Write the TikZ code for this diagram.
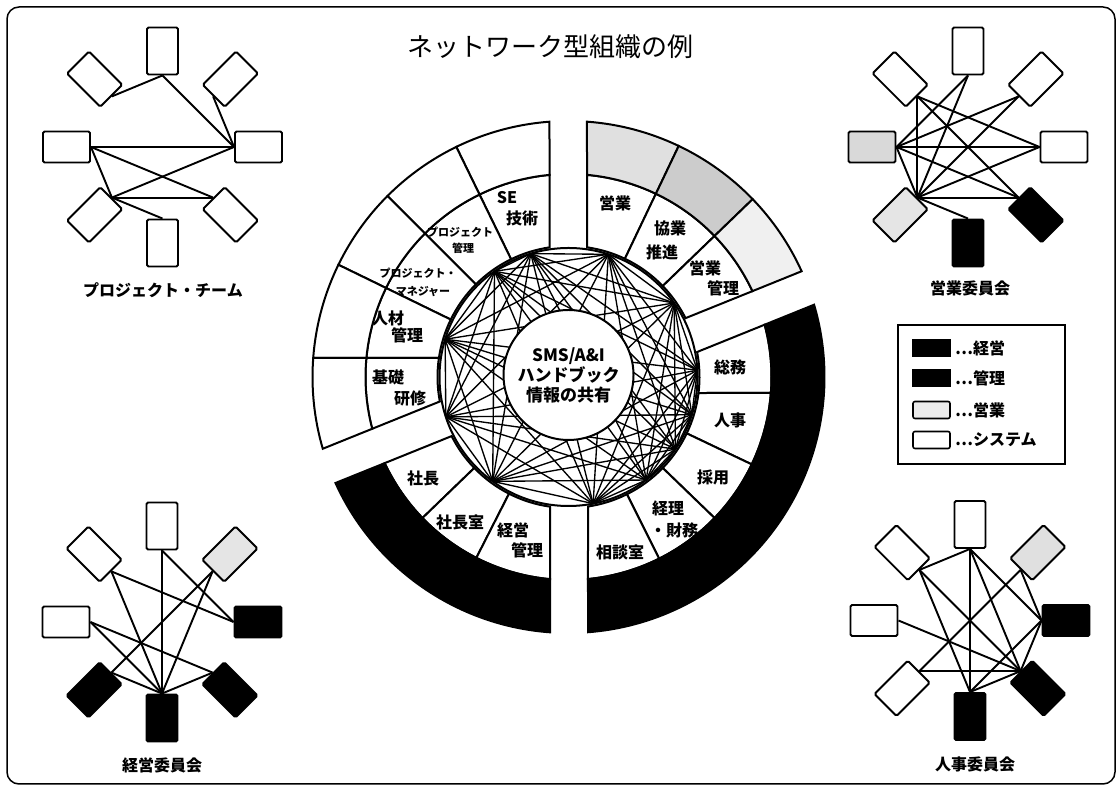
\documentclass[tikz,border=0pt]{standalone}
\usepackage{fontspec}
\setmainfont{Noto Sans CJK JP}
\usetikzlibrary{calc}
\tikzset{
  frame/.style={line width=1.5pt, rounded corners=12pt},
  cw/.style={draw=black, line width=2pt, fill=white},
  cb/.style={draw=black, line width=2pt, fill=black},
  cs1/.style={draw=black, line width=2pt, fill=black!12},
  cs2/.style={draw=black, line width=2pt, fill=black!20},
  cs3/.style={draw=black, line width=2pt, fill=black!6},
  satbox/.style={draw, line width=1.9pt, rectangle, rounded corners=1.5pt, minimum width=47pt, minimum height=31pt, inner sep=0pt},
  satedge/.style={line width=1.9pt},
  webline/.style={line width=1.35pt},
  webring/.style={line width=2pt},
  hubc/.style={circle, draw, fill=white, line width=2pt, minimum size=130pt, inner sep=0pt, align=center, font=\fontsize{17}{20}\selectfont\bfseries},
  lbl/.style={font=\fontsize{16}{16}\selectfont\bfseries, inner sep=0pt},
  smalllbl/.style={font=\fontsize{11}{11}\selectfont\bfseries, inner sep=0pt},
  sattitle/.style={font=\fontsize{16}{16}\selectfont\bfseries, inner sep=0pt},
  titlefont/.style={font=\fontsize{26}{26}\selectfont, inner sep=0pt},
  legsw/.style={draw, line width=1.6pt, minimum width=37pt, minimum height=17pt, inner sep=0pt},
  legtxt/.style={font=\fontsize{16}{16}\selectfont\bfseries, inner sep=0pt, anchor=west},
}
% #1 style, #2 angle A at r_in, #3 angle A at r_out, #4 angle B at r_in, #5 angle B at r_out, #6 r_in, #7 r_out
\newcommand{\cell}[7]{\draw[#1] (#2:#6pt) -- (#3:#7pt) arc[start angle=#3, end angle=#5, radius=#7pt] -- (#4:#6pt) arc[start angle=#4, end angle=#2, radius=#6pt] -- cycle;}
\newcommand{\satnodes}[3]{%
  \foreach \a/\n/\f in {#3} {
    \node[satbox, fill=\f, rotate=\a] (#1\n) at ($(#2)+(\a:96)$) {};
  }%
}
\begin{document}
\begin{tikzpicture}[x=1pt,y=1pt]
\useasboundingbox (0,0) rectangle (1118,794);
\fill[white] (0,0) rectangle (1118,794);
\draw[frame] (7,10) rectangle (1115,787);
\node[titlefont] (title) at (550,747) {ネットワーク型組織の例};

\begin{scope}[shift={(568.5,417)}]
 % upper-left (system)
 \cell{cw}{98.34}{95.37}{116}{116}{131}{203}
 \cell{cw}{116}{116}{135}{135}{131}{203}
 \cell{cw}{135}{135}{154}{154}{131}{203}
 \cell{cw}{154}{154}{171.66}{174.63}{131}{203}
 \cell{cw}{171.66}{174.63}{190.78}{194.78}{131}{203}
 \cell{cw}{95.37}{94.26}{116}{116}{203}{256}
 \cell{cw}{116}{116}{135}{135}{203}{256}
 \cell{cw}{135}{135}{154}{154}{203}{256}
 \cell{cw}{154}{154}{174.63}{175.74}{203}{256}
 \cell{cw}{174.63}{175.74}{194.78}{196.28}{203}{256}
 % upper-right (sales)
 \cell{cw}{81.88}{84.77}{64.5}{64.5}{131}{203}
 \cell{cw}{64.5}{64.5}{44}{44}{131}{203}
 \cell{cw}{44}{44}{26.69}{25.02}{131}{203}
 \cell{cs1}{84.77}{85.86}{64.5}{64.5}{203}{256}
 \cell{cs2}{64.5}{64.5}{44}{44}{203}{256}
 \cell{cs3}{44}{44}{25.02}{24.40}{203}{256}
 % lower-right (administration)
 \cell{cw}{11.00}{14.93}{-7.02}{-4.52}{131}{203}
 \cell{cw}{-7.02}{-4.52}{-25.5}{-25.5}{131}{203}
 \cell{cw}{-25.5}{-25.5}{-44}{-44}{131}{203}
 \cell{cw}{-44}{-44}{-63.5}{-63.5}{131}{203}
 \cell{cw}{-63.5}{-63.5}{-81.44}{-84.49}{131}{203}
 \cell{cb}{14.93}{16.40}{-84.49}{-85.63}{203}{256}
 % lower-left (management)
 \cell{cw}{206.82}{205.11}{224}{224}{131}{203}
 \cell{cw}{224}{224}{243}{243}{131}{203}
 \cell{cw}{243}{243}{261.88}{264.77}{131}{203}
 \cell{cb}{205.11}{204.46}{264.77}{265.86}{203}{256}
 % web
 \foreach \a [count=\i] in {125,107,72,35,3,-17,-34,-53,-79,-126,-162,163}
   \coordinate (h\i) at (\a:129);
 \foreach \i in {1,...,11}{%
   \pgfmathtruncatemacro{\s}{\i+1}%
   \foreach \j in {\s,...,12}{\draw[webline] (h\i) -- (h\j);}%
 }
 \draw[webring] (0,0) circle[radius=129pt];
 \node[hubc] (hub) at (0,2) {SMS/A\&I\\ハンドブック\\情報の共有};
\end{scope}

% ring labels
\node[lbl] (l1a) at (507,596) {SE};
\node[lbl] (l1b) at (522,576) {技術};
\node[smalllbl] (l2a) at (460,562) {プロジェクト};
\node[smalllbl] (l2b) at (463,546) {管理};
\node[smalllbl] (l3a) at (418,521) {プロジェクト・};
\node[smalllbl] (l3b) at (423,502) {マネジャー};
\node[lbl] (l4a) at (388,476) {人材};
\node[lbl] (l4b) at (407,459) {管理};
\node[lbl] (l5a) at (388,417) {基礎};
\node[lbl] (l5b) at (410,396) {研修};
\node[lbl] (l6) at (423,316) {社長};
\node[lbl] (l7) at (460,272) {社長室};
\node[lbl] (l8a) at (513,264) {経営};
\node[lbl] (l8b) at (527,244) {管理};
\node[lbl] (l9) at (615,591) {営業};
\node[lbl] (l10a) at (670,566) {協業};
\node[lbl] (l10b) at (662,542) {推進};
\node[lbl] (l11a) at (705,526) {営業};
\node[lbl] (l11b) at (723,506) {管理};
\node[lbl] (l12) at (730,427) {総務};
\node[lbl] (l13) at (730,374) {人事};
\node[lbl] (l14) at (713,317) {採用};
\node[lbl] (l15a) at (668,286) {経理};
\node[lbl] (l15b) at (674,264) {・財務};
\node[lbl] (l16) at (620,242) {相談室};

% project team
\satnodes{p}{162.5,647}{0/R/white,45/TR/white,90/T/white,135/TL/white,180/L/white,225/BL/white,270/B/white,315/BR/white}
\foreach \u/\v in {T/TL,T/R,TR/R,L/R,L/BR,L/BL,R/BL,BL/BR,BL/B}
  \draw[satedge] (p\u.west) -- (p\v.west);
\node[sattitle] (ptitle) at (163,504) {プロジェクト・チーム};

% sales committee
\satnodes{s}{968,647}{0/R/white,45/TR/white,90/T/white,135/TL/white,180/L/black!15,225/BL/black!10,270/B/black,315/BR/black}
\foreach \u/\v in {TL/BL,TL/R,TL/BR,L/T,L/TR,L/R,L/BR,L/BL,T/BL,TR/BL,R/BL,BL/BR,BL/B}
  \draw[satedge] (s\u.west) -- (s\v.west);
\node[sattitle] (stitle) at (970,506) {営業委員会};

% management committee
\satnodes{m}{162,172}{0/R/black,45/TR/black!10,90/T/white,135/TL/white,180/L/white,225/BL/black,270/B/black,315/BR/black}
\foreach \u/\v in {B/BL,B/BR,B/T,B/TL,B/L,B/TR,T/R,TL/R,TR/BL,L/BR}
  \draw[satedge] (m\u.west) -- (m\v.west);
\node[sattitle] (mtitle) at (162,29) {経営委員会};

% HR committee
\satnodes{h}{970,173.5}{0/R/black,45/TR/black!12,90/T/white,135/TL/white,180/L/white,225/BL/white,270/B/black,315/BR/black}
\foreach \u/\v in {T/TL,T/B,T/BR,T/R,TL/B,TL/BR,L/BR,TR/BL,TR/R,BL/BR,R/B,R/BR,BR/B}
  \draw[satedge] (h\u.west) -- (h\v.west);
\node[sattitle] (htitle) at (975,30) {人事委員会};

% legend
\node[draw, line width=1.6pt, minimum width=167pt, minimum height=139pt, inner sep=0pt] (legend) at (981.5,399.5) {};
\node[legsw, fill=black] (sw1) at (931.5,446) {};
\node[legtxt] (lt1) at (955,446) {…経営};
\node[legsw, fill=black] (sw2) at (931.5,416) {};
\node[legtxt] (lt2) at (955,416) {…管理};
\node[legsw, fill=black!8, rounded corners=2pt] (sw3) at (931.5,384) {};
\node[legtxt] (lt3) at (955,384) {…営業};
\node[legsw, fill=white, rounded corners=2pt] (sw4) at (931.5,354) {};
\node[legtxt] (lt4) at (955,354) {…システム};
\end{tikzpicture}
\end{document}
